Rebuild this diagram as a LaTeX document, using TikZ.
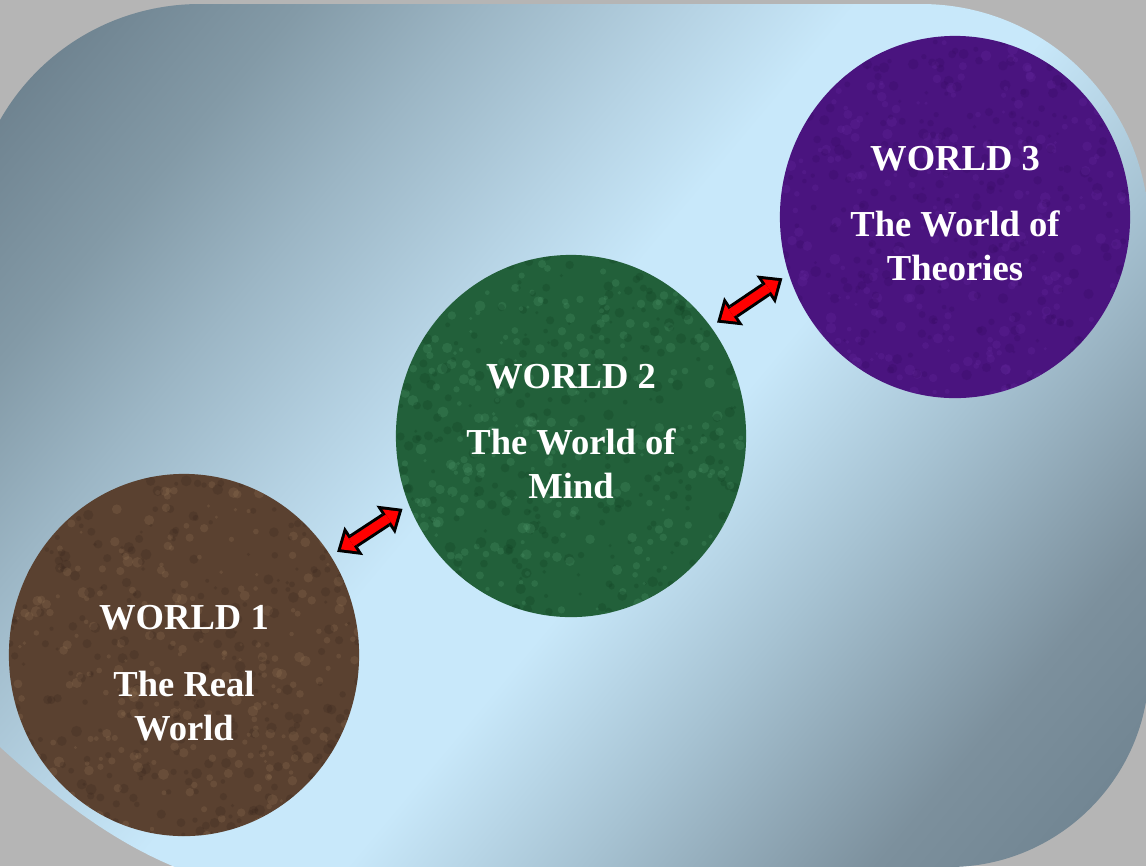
\documentclass[tikz,border=0pt]{standalone}
\usepackage{fontspec}
\setmainfont{Liberation Serif}
\usetikzlibrary{arrows.meta,positioning,shapes.geometric}
\definecolor{slate}{HTML}{6C808D}
\definecolor{slatea}{HTML}{839AA7}
\definecolor{slateb}{HTML}{9CB6C5}
\definecolor{skya}{HTML}{B6D3E4}
\definecolor{skylight}{HTML}{C8E8FA}
\definecolor{skymid}{HTML}{A6C2D2}
\definecolor{slatec}{HTML}{7C909D}
\definecolor{backdrop}{HTML}{B5B5B5}
\definecolor{realworld}{HTML}{5A4130}
\definecolor{realvein}{HTML}{9C7C5A}
\definecolor{realshade}{HTML}{35231A}
\definecolor{mindworld}{HTML}{22603A}
\definecolor{mindvein}{HTML}{55A073}
\definecolor{mindshade}{HTML}{0C3B1E}
\definecolor{theoryworld}{HTML}{4A147F}
\definecolor{theoryvein}{HTML}{6A2EA6}
\definecolor{theoryshade}{HTML}{33085C}
\definecolor{linkred}{HTML}{FF0000}
\pgfdeclarehorizontalshading{panelshade}{100bp}{color(0bp)=(slate); color(17bp)=(slate); color(26bp)=(slatea); color(33bp)=(slateb); color(41bp)=(skya); color(47bp)=(skylight); color(55bp)=(skylight); color(64bp)=(skymid); color(75bp)=(slatec); color(85bp)=(slate); color(100bp)=(slate)}

\begin{document}
\begin{tikzpicture}[x=0.01cm, y=-0.01cm,
      world/.style={ellipse, minimum width=3.5cm, minimum height=3.62cm, inner sep=0pt},
      worldtext/.style={text=white, align=center, inner sep=0pt,
                  font=\fontsize{10.4pt}{12.5pt}\selectfont\bfseries},
      linkout/.style={line width=1.5mm, black, shorten <=0.7mm, shorten >=0.7mm,
                  {Triangle[length=2mm,width=3.4mm,line width=0pt]}-{Triangle[length=2mm,width=3.4mm,line width=0pt]}},
      linkin/.style={line width=0.9mm, linkred, shorten <=1.16mm, shorten >=1.16mm,
                  {Triangle[length=1.24mm,width=2.1mm,line width=0pt]}-{Triangle[length=1.24mm,width=2.1mm,line width=0pt]}}
    ]
      \pgfmathsetseed{7}
      \useasboundingbox (0,0) rectangle (1146,866);
      \clip (0,0) rectangle (1146,866);
      \fill[backdrop] (0,0) rectangle (1146,866);
      % rounded panel behind the worlds
      \shade[shading=panelshade, shading angle=-40]
        (0,120) .. controls (41,48) and (117,4) .. (200,4) -- (921,4)
        .. controls (1047,4) and (1149,106) .. (1149,232) -- (1149,667)
        .. controls (1149,777) and (1059,867) .. (949,867) -- (175,867)
        .. controls (110,840) and (55,797) .. (0,747) -- cycle;

      \node[world, fill=realworld] (w1) at (184,655) {};
      \node[world, fill=mindworld] (w2) at (571,436) {};
      \node[world, fill=theoryworld] (w3) at (955,217) {};

      % mottled surface of each world
      \foreach \w/\vein/\shadow in {w1/realvein/realshade, w2/mindvein/mindshade, w3/theoryvein/theoryshade} {
        \begin{scope}
          \clip (\w.center) ellipse [x radius=1.75cm, y radius=1.81cm];
          \foreach \i in {1,...,320} {
            \fill[\vein, opacity=0.22] (\w.center) ++(rand*175,rand*181) circle [radius=0.15mm+0.4mm*rnd];
            \fill[\shadow, opacity=0.22] (\w.center) ++(rand*175,rand*181) circle [radius=0.15mm+0.4mm*rnd];
          }
        \end{scope}
      }

      \node[worldtext] (t1) at ([yshift=-0.185cm]w1.center) {WORLD 1\\[6.5pt]The Real\\World};
      \node[worldtext] (t2) at ([yshift=0.045cm]w2.center) {WORLD 2\\[6.5pt]The World of\\Mind};
      \node[worldtext] (t3) at ([yshift=0.035cm]w3.center) {WORLD 3\\[6.5pt]The World of\\Theories};

      \draw[linkout] (w1.34) -- (w2.203);
      \draw[linkin] (w1.34) -- (w2.203);
      \draw[linkout] (w2.38) -- (w3.199);
      \draw[linkin] (w2.38) -- (w3.199);
    \end{tikzpicture}
\end{document}
